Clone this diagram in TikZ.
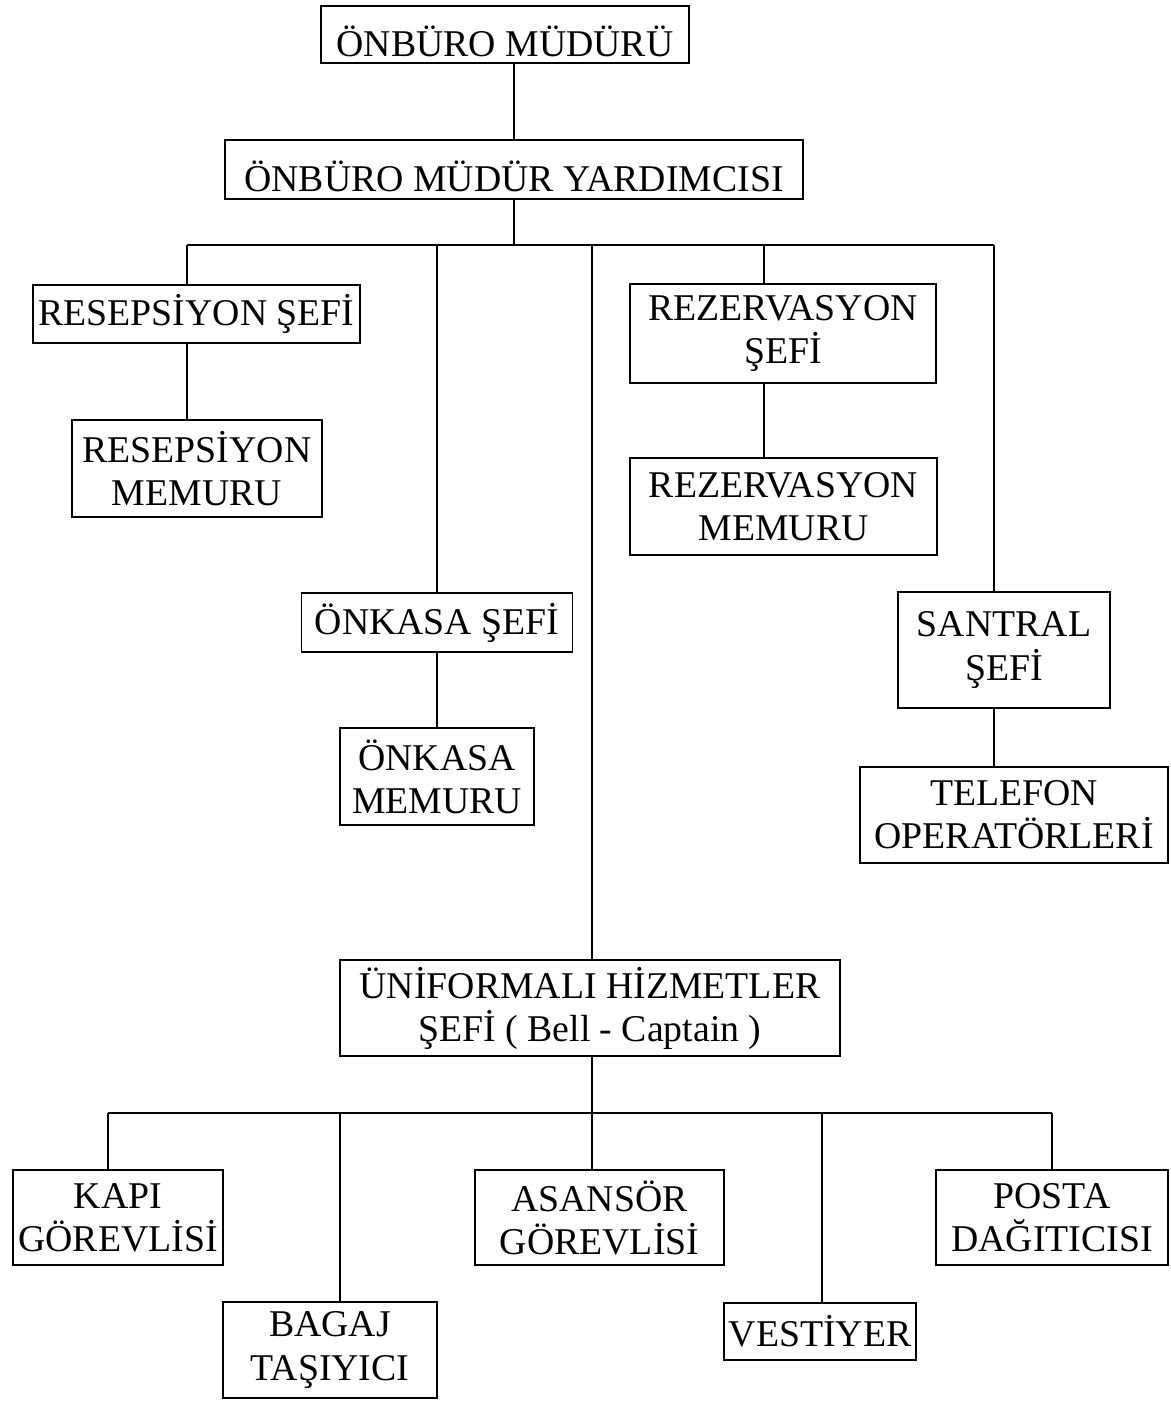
\documentclass[tikz,border=0pt]{standalone}
\usepackage{fontspec}
\setmainfont{Liberation Serif}

\begin{document}
\begin{tikzpicture}[x=0.02cm,y=-0.02cm,
  box/.style={draw,line width=1pt,inner sep=0pt,align=center,font=\fontsize{21.5}{24.5}\selectfont},
  wh/.style 2 args={minimum width=#1*0.02cm,minimum height=#2*0.02cm},
  link/.style={line width=0.8pt}]
\useasboundingbox (0,0) rectangle (1170,1403);
% boxes
\node[box,wh={368}{57}] (mudur) at (505,34.5) {\raisebox{-4pt}[\height][\depth]{ÖNBÜRO MÜDÜRÜ}};
\node[box,wh={578}{59}] (yrd) at (514,169.5) {\raisebox{-4pt}[\height][\depth]{ÖNBÜRO MÜDÜR YARDIMCISI}};
\node[box,wh={327}{58}] (resef) at (196.5,314) {RESEPSİYON ŞEFİ};
\node[box,wh={250}{97}] (resmem) at (197,468.5) {RESEPSİYON\\ MEMURU};
\node[box,wh={306}{99}] (rezsef) at (783,333.5) {REZERVASYON\\ ŞEFİ};
\node[box,wh={307}{97}] (rezmem) at (783.5,506.5) {REZERVASYON\\ MEMURU};
\node[box,wh={271}{59}] (onksef) at (437,622.5) {ÖNKASA ŞEFİ};
\node[box,wh={194}{97}] (onkmem) at (437,776.5) {ÖNKASA\\ MEMURU};
\node[box,wh={212}{116}] (santral) at (1004,650) {SANTRAL\\ ŞEFİ};
\node[box,wh={308}{96}] (telefon) at (1014,815) {TELEFON\\ OPERATÖRLERİ};
\node[box,wh={500}{96}] (unif) at (590,1008) {ÜNİFORMALI HİZMETLER\\ ŞEFİ ( Bell - Captain )};
\node[box,wh={210}{95}] (kapi) at (118,1217.5) {KAPI\\ GÖREVLİSİ};
\node[box,wh={214}{96}] (bagaj) at (330,1350) {BAGAJ\\ TAŞIYICI};
\node[box,wh={249}{95}] (asansor) at (599.5,1217.5) {ASANSÖR\\ GÖREVLİSİ};
\node[box,wh={192}{57}] (vestiyer) at (820,1331.5) {VESTİYER};
\node[box,wh={232}{95}] (posta) at (1052,1217.5) {POSTA\\ DAĞITICISI};
% upper bus
\coordinate (b1) at (187,245);
\coordinate (b2) at (437,245);
\coordinate (b3) at (592,245);
\coordinate (b4) at (764,245);
\coordinate (b5) at (994,245);
\draw[link] (mudur.south -| yrd.north) -- (yrd.north);
\draw[link] (yrd.south) -- (yrd.south |- b1);
\draw[link] (b1) -- (b5);
\draw[link] (b1) -- (b1 |- resef.north);
\draw[link] (resef.south -| b1) -- (resmem.north -| b1);
\draw[link] (b2) -- (b2 |- onksef.north);
\draw[link] (onksef.south -| b2) -- (onkmem.north -| b2);
\draw[link] (b3) -- (b3 |- unif.north);
\draw[link] (b4) -- (b4 |- rezsef.north);
\draw[link] (rezsef.south -| b4) -- (rezmem.north -| b4);
\draw[link] (b5) -- (b5 |- santral.north);
\draw[link] (santral.south -| b5) -- (telefon.north -| b5);
% lower bus
\coordinate (a1) at (108,1113);
\coordinate (a2) at (340,1113);
\coordinate (a3) at (592,1113);
\coordinate (a4) at (822,1113);
\coordinate (a5) at (1052,1113);
\draw[link] (unif.south -| a3) -- (a3);
\draw[link] (a1) -- (a5);
\draw[link] (a1) -- (a1 |- kapi.north);
\draw[link] (a2) -- (a2 |- bagaj.north);
\draw[link] (a3) -- (a3 |- asansor.north);
\draw[link] (a4) -- (a4 |- vestiyer.north);
\draw[link] (a5) -- (a5 |- posta.north);
\end{tikzpicture}
\end{document}
